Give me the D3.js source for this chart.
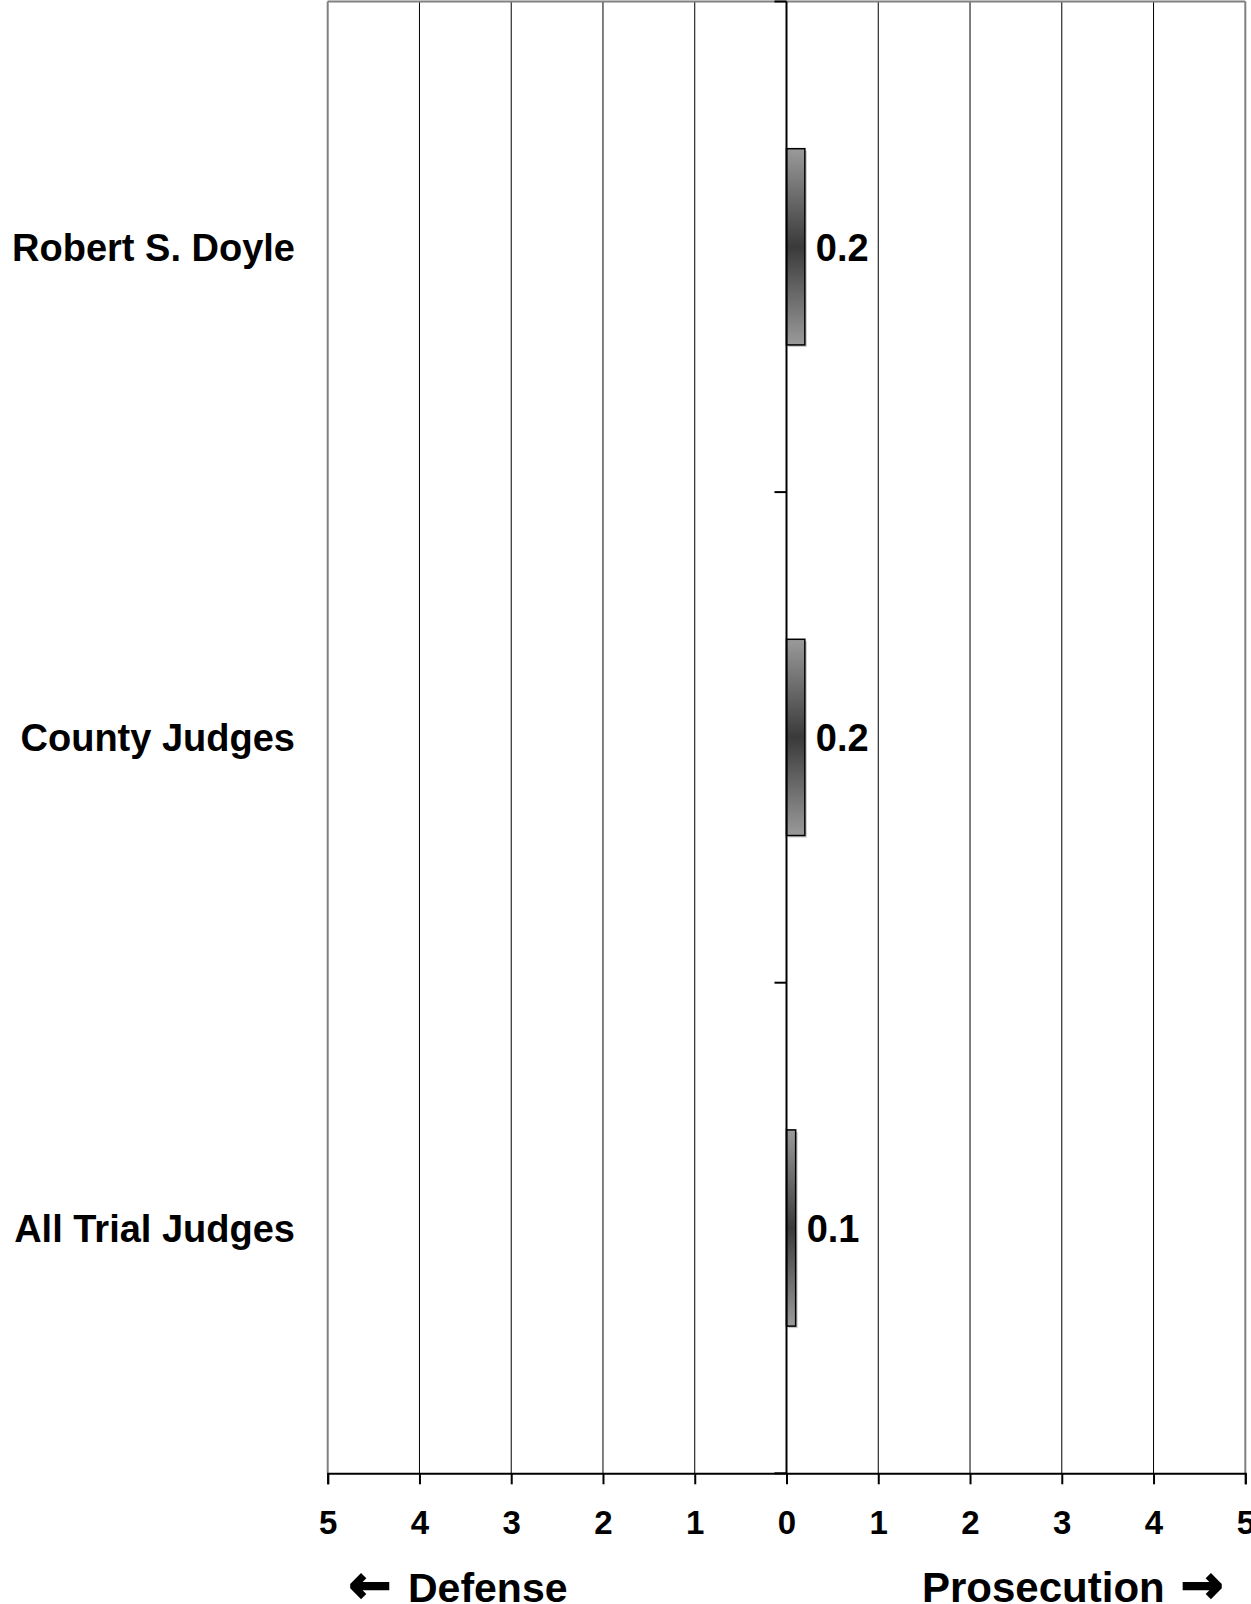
<!DOCTYPE html>
<html>
<head>
<meta charset="utf-8">
<script src="https://cdn.jsdelivr.net/npm/d3@7"></script>
<style>
  body { margin: 0; background: #fff; }
  svg { display: block; font-family: "Liberation Sans", Arial, sans-serif; }
</style>
</head>
<body>
<svg id="chart" width="1251" height="1604"></svg>
<script>
// data
var categories = ["Robert S. Doyle", "County Judges", "All Trial Judges"];
var values = [0.2, 0.2, 0.1];
var valueLabels = ["0.2", "0.2", "0.1"];
var xTicks = [-5, -4, -3, -2, -1, 0, 1, 2, 3, 4, 5];

var svg = d3.select("#chart");
var plotLeft = 327.7, plotRight = 1245.3, plotTop = 1.5, plotBottom = 1473.3;

var x = d3.scaleLinear().domain([-5, 5]).range([plotLeft, plotRight]);
var y = d3.scaleBand().domain(categories).range([plotTop, plotBottom])
        .paddingInner(0.6).paddingOuter(0.3);

var defs = svg.append("defs");
var grad = defs.append("linearGradient").attr("id", "barfill")
        .attr("x1", 0).attr("y1", 0).attr("x2", 0).attr("y2", 1);
grad.append("stop").attr("offset", "0%").attr("stop-color", "#9a9a9a");
grad.append("stop").attr("offset", "50%").attr("stop-color", "#3a3a3a");
grad.append("stop").attr("offset", "100%").attr("stop-color", "#9a9a9a");

// vertical grid
svg.append("g").selectAll("line")
    .data(xTicks.filter(d => d != 0 && Math.abs(d) != 5))
    .join("line")
    .attr("x1", d => x(d)).attr("x2", d => x(d))
    .attr("y1", plotTop).attr("y2", plotBottom)
    .attr("stroke", "#000").attr("stroke-width", 1);

// frame (gray)
svg.append("line").attr("x1", plotLeft).attr("x2", plotRight).attr("y1", plotTop).attr("y2", plotTop)
    .attr("stroke", "#808080").attr("stroke-width", 2);
svg.append("line").attr("x1", plotLeft).attr("x2", plotLeft).attr("y1", plotTop).attr("y2", plotBottom)
    .attr("stroke", "#808080").attr("stroke-width", 2);
svg.append("line").attr("x1", plotRight).attr("x2", plotRight).attr("y1", plotTop).attr("y2", plotBottom)
    .attr("stroke", "#808080").attr("stroke-width", 2);

// bars: shadow then bar
svg.append("g").selectAll("rect")
    .data(values)
    .join("rect")
    .attr("x", x(0) + 2)
    .attr("y", (d, i) => y(categories[i]) + 2)
    .attr("width", d => x(d) - x(0))
    .attr("height", y.bandwidth())
    .attr("fill", "#c8c8c8");

svg.append("g").selectAll("rect")
    .data(values)
    .join("rect")
    .attr("x", x(0))
    .attr("y", (d, i) => y(categories[i]))
    .attr("width", d => x(d) - x(0))
    .attr("height", y.bandwidth())
    .attr("fill", "url(#barfill)")
    .attr("stroke", "#000").attr("stroke-width", 1.5);

// value labels
svg.append("g").selectAll("text")
    .data(values)
    .join("text")
    .attr("x", d => x(d) + 11)
    .attr("y", (d, i) => y(categories[i]) + y.bandwidth() / 2 + 14)
    .attr("font-size", 38).attr("font-weight", "bold")
    .text((d, i) => valueLabels[i]);

// category axis on zero line
var step = y.step();
var bounds = d3.range(categories.length + 1).map(i => plotTop + i * step);
svg.append("line").attr("x1", x(0)).attr("x2", x(0)).attr("y1", plotTop).attr("y2", plotBottom)
    .attr("stroke", "#000").attr("stroke-width", 2);
svg.append("g").selectAll("line")
    .data(bounds)
    .join("line")
    .attr("x1", x(0) - 12).attr("x2", x(0))
    .attr("y1", d => d).attr("y2", d => d)
    .attr("stroke", "#000").attr("stroke-width", 2);

svg.append("g").selectAll("text")
    .data(categories)
    .join("text")
    .attr("x", 295)
    .attr("y", d => y(d) + y.bandwidth() / 2 + 14)
    .attr("text-anchor", "end")
    .attr("font-size", 38).attr("font-weight", "bold")
    .text(d => d);

// x axis
var xAxis = svg.append("g").attr("transform", "translate(0," + plotBottom + ")")
    .call(d3.axisBottom(x).tickValues(xTicks).tickFormat(d => Math.abs(d)).tickSize(11).tickPadding(26));
xAxis.select(".domain").attr("stroke", "#000").attr("stroke-width", 2);
xAxis.selectAll(".tick line").attr("stroke", "#000").attr("stroke-width", 2);
xAxis.selectAll(".tick text")
    .attr("font-family", "\"Liberation Sans\", Arial, sans-serif")
    .attr("font-size", 33).attr("font-weight", "bold").attr("fill", "#000");

// direction labels
var dl = svg.append("text").attr("x", 349).attr("y", 1602)
    .attr("font-size", 41).attr("font-weight", "bold");
dl.append("tspan").attr("font-family", "\"DejaVu Sans\", sans-serif").attr("font-size", 50)
    .attr("stroke", "#000").attr("stroke-width", 2.5).text("\u2190");
dl.append("tspan").attr("x", 408).text("Defense");

var pl = svg.append("text").attr("x", 922).attr("y", 1602)
    .attr("font-size", 42).attr("font-weight", "bold");
pl.append("tspan").text("Prosecution");
pl.append("tspan").attr("x", 1181).attr("font-family", "\"DejaVu Sans\", sans-serif").attr("font-size", 50)
    .attr("stroke", "#000").attr("stroke-width", 2.5).text("\u2192");
</script>
</body>
</html>
